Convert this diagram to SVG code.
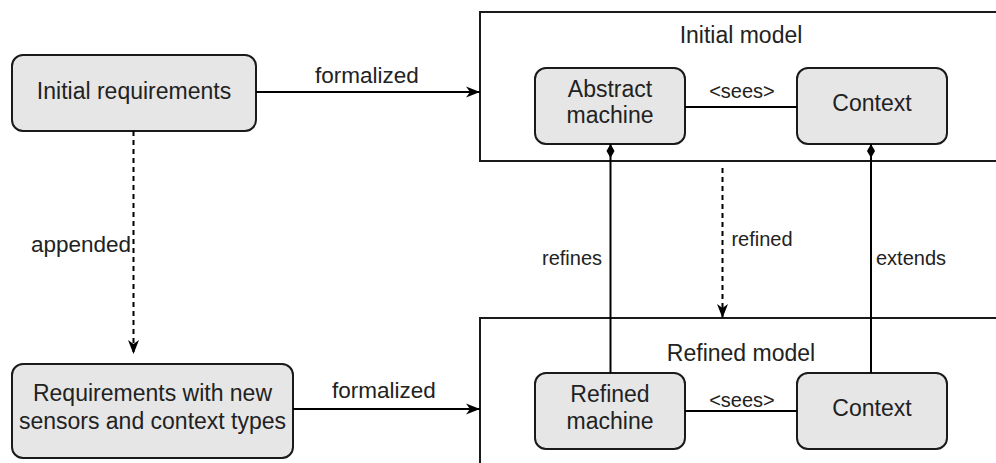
<svg xmlns="http://www.w3.org/2000/svg" width="996" height="463" viewBox="0 0 996 463">
<style>
.node{fill:#e6e6e6;stroke:#1a1a1a;stroke-width:2}
.cont{fill:#ffffff;stroke:#1a1a1a;stroke-width:2}
.t{font-family:"Liberation Sans",Arial,sans-serif;font-size:23px;fill:#222;text-anchor:middle}
.f{font-family:"Liberation Sans",Arial,sans-serif;font-size:22.5px;fill:#222;text-anchor:middle}
.e{font-family:"Liberation Sans",Arial,sans-serif;font-size:20px;fill:#222;text-anchor:middle}
.ln{fill:none;stroke:#000;stroke-width:2}
.dash{fill:none;stroke:#000;stroke-width:2;stroke-dasharray:5 4}
</style>
<defs>
<marker id="arr" markerUnits="userSpaceOnUse" markerWidth="16" markerHeight="14" viewBox="0 0 16 14" refX="15" refY="7" orient="auto">
<path d="M1,1.5 L15,7 L1,12.5 L5,7 Z" fill="#000"/>
</marker>
<marker id="dia" markerUnits="userSpaceOnUse" markerWidth="15" markerHeight="9" viewBox="0 0 15 9" refX="0" refY="4.5" orient="auto">
<path d="M0,4.5 L7,0.5 L14,4.5 L7,8.5 Z" fill="#000"/>
</marker>
</defs>
<rect width="996" height="463" fill="#ffffff"/>

<g id="initial-model">
<rect class="cont" x="480" y="12" width="600" height="149"/>
<text class="t" x="741" y="43">Initial model</text>
</g>
<g id="refined-model">
<rect class="cont" x="480" y="318" width="600" height="200"/>
<text class="t" x="741" y="361">Refined model</text>
</g>

<g id="initial-requirements">
<rect class="node" x="12" y="55" width="244" height="76" rx="11"/>
<text class="t" x="134" y="99">Initial requirements</text>
</g>
<g id="requirements-new">
<rect class="node" x="12" y="364" width="281" height="94" rx="11"/>
<text class="t" x="152.5" y="401">Requirements with new</text>
<text class="t" x="152.5" y="429">sensors and context types</text>
</g>
<g id="abstract-machine">
<rect class="node" x="535" y="68" width="150" height="76" rx="11"/>
<text class="t" x="610" y="97">Abstract</text>
<text class="t" x="610" y="123">machine</text>
</g>
<g id="context-1">
<rect class="node" x="797" y="68" width="150" height="76" rx="11"/>
<text class="t" x="872" y="111">Context</text>
</g>
<g id="refined-machine">
<rect class="node" x="535" y="373" width="150" height="76" rx="11"/>
<text class="t" x="610" y="402">Refined</text>
<text class="t" x="610" y="429">machine</text>
</g>
<g id="context-2">
<rect class="node" x="797" y="373" width="150" height="76" rx="11"/>
<text class="t" x="872" y="416">Context</text>
</g>

<g id="connectors">
<line class="ln" x1="256" y1="92" x2="480" y2="92" marker-end="url(#arr)"/>
<text class="f" x="367" y="83">formalized</text>
<line class="ln" x1="293" y1="409" x2="480" y2="409" marker-end="url(#arr)"/>
<text class="f" x="384" y="398">formalized</text>
<line class="dash" x1="133.5" y1="131" x2="133.5" y2="354" marker-end="url(#arr)"/>
<text class="f" x="81" y="252">appended</text>
<line class="ln" x1="685" y1="107" x2="797" y2="107"/>
<text class="e" x="742" y="98">&lt;sees&gt;</text>
<line class="ln" x1="685" y1="411" x2="797" y2="411"/>
<text class="e" x="742" y="407">&lt;sees&gt;</text>
<line class="ln" x1="610.5" y1="144" x2="610.5" y2="373" marker-start="url(#dia)"/>
<text class="e" x="572" y="265">refines</text>
<line class="ln" x1="871" y1="144" x2="871" y2="373" marker-start="url(#dia)"/>
<text class="e" x="911" y="265">extends</text>
<line class="dash" x1="722.5" y1="168" x2="722.5" y2="318" marker-end="url(#arr)"/>
<text class="e" x="762" y="246">refined</text>
</g>
</svg>
